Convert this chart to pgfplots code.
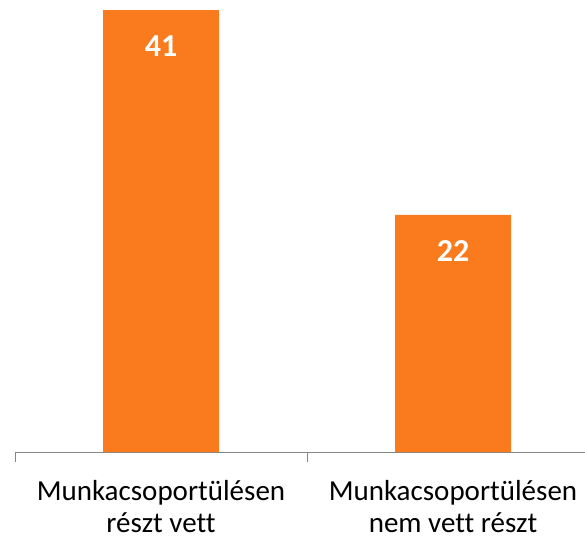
\documentclass[border=0pt]{standalone}
\usepackage{pgfplots}
\pgfplotsset{compat=1.18}
\usepackage{fontspec}
\setmainfont{Carlito}[Ligatures={NoCommon}]
\definecolor{barorange}{RGB}{250,122,30}
\definecolor{axgray}{RGB}{134,134,134}
\begin{document}
\begin{tikzpicture}
\begin{axis}[
  at={(15pt,87pt)}, anchor=south west,
  scale only axis,
  width=584pt, height=485pt,
  xmin=-0.5, xmax=1.5,
  ymin=0, ymax=45,
  axis x line*=bottom,
  axis y line=none,
  axis line style={axgray, line width=1pt, -},
  xtick={0,1},
  xticklabels={{Munkacsoportülésen\\részt vett},{Munkacsoportülésen\\nem vett részt}},
  major tick length=0pt,
  minor xtick={-0.5,0.5,1.5},
  minor tick length=10pt,
  tick align=outside,
  minor tick style={axgray, line width=1pt},
  xticklabel style={align=center, font=\fontsize{29}{32}\selectfont, text=black, yshift=-25pt},
  ybar, bar width=116pt,
  /pgf/number format/assume math mode=true,
  nodes near coords,
  every node near coord/.append style={anchor=center, yshift=-36pt, text=white, font=\bfseries\fontsize{32}{32}\selectfont},
  clip=false,
]
\addplot[fill=barorange, draw=none] coordinates {(0,41) (1,22)};
\end{axis}
\pgfresetboundingbox
\path[use as bounding box] (0,0) rectangle (585pt,539pt);
\end{tikzpicture}
\end{document}
